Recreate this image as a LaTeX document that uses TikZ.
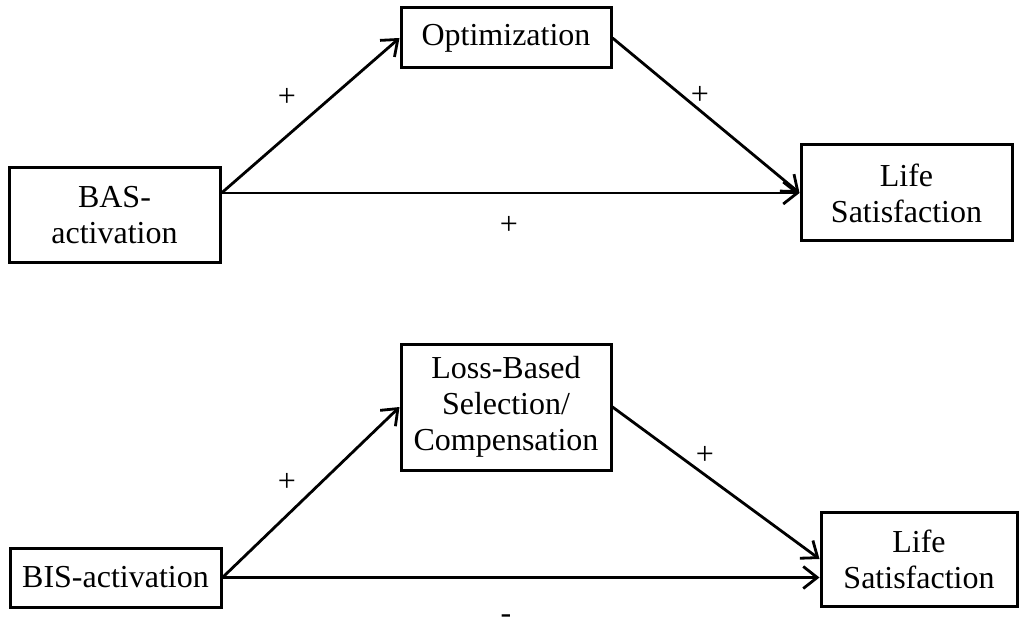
\documentclass[tikz,border=0pt]{standalone}
\usepackage{fontspec}
\setmainfont{Liberation Serif}
\usetikzlibrary{arrows.meta}
\begin{document}
\begin{tikzpicture}[x=1pt,y=-1pt,
  box/.style={draw,line width=3pt,align=center,inner sep=0pt,
    font=\fontsize{32}{36}\selectfont},
  link/.style={line width=2.8pt,-{Straight Barb[length=14pt,width=22pt,line width=2.8pt]}},
  sign/.style={inner sep=0pt,font=\fontsize{32}{36}\selectfont}]
\useasboundingbox (0,0) rectangle (1025,628);
% upper model
\node[box,minimum width=211pt,minimum height=95pt] (bas) at (114.5,215.5) {BAS-\\activation};
\node[box,minimum width=210pt,minimum height=60pt] (opt) at (506,38) {Optimization};
\node[box,minimum width=211pt,minimum height=96pt] (ls1) at (906.5,193) {Life\\Satisfaction};
\coordinate (basout) at (bas.east |- ls1.west);
\draw[link] (basout) -- (opt.west);
\draw[link] (opt.east) -- (ls1.west);
\draw[link] (basout) -- (ls1.west);
\node[sign] (p1) at (287,97) {+};
\node[sign] (p2) at (700,95) {+};
\node[sign] (p3) at (509,225) {+};
% lower model
\node[box,minimum width=211pt,minimum height=59pt] (bis) at (115.5,577.5) {BIS-activation};
\node[box,minimum width=210pt,minimum height=126pt] (loss) at (506,407) {Loss-Based\\Selection/\\Compensation};
\node[box,minimum width=196pt,minimum height=94pt] (ls2) at (919,559) {Life\\Satisfaction};
\coordinate (bisin) at (bis.east -| ls2.west);
\draw[link] (bis.east) -- (loss.west);
\draw[link] (loss.east) -- (ls2.west);
\draw[link] (bis.east) -- (bisin);
\node[sign] (p4) at (287,482) {+};
\node[sign] (p5) at (705,455) {+};
\node[sign] (m1) at (506,619) {-};
\end{tikzpicture}
\end{document}
